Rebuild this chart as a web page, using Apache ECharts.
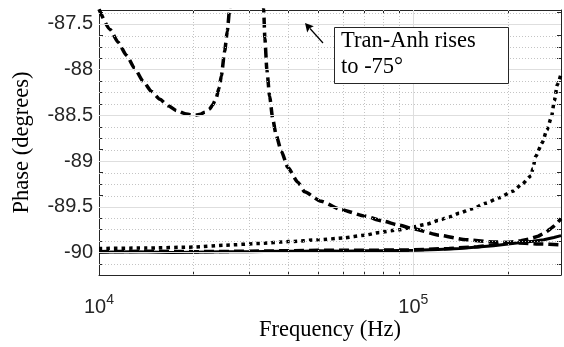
<!DOCTYPE html>
<html>
<head>
<meta charset="utf-8">
<script src="https://cdn.jsdelivr.net/npm/echarts@6/dist/echarts.min.js"></script>
<style>html,body{margin:0;padding:0;background:#fff;}#c{width:564px;height:347px;}</style>
</head>
<body>
<div id="c"></div>
<script>
// ---- data ----
const freqTA = [1.0e4, 1.084e4, 1.15e4, 1.224e4, 1.3e4, 1.382e4, 1.47e4, 1.562e4, 1.66e4, 1.764e4, 1.9e4, 1.97e4, 2.04e4, 2.1e4, 2.17e4, 2.25e4, 2.3e4, 2.36e4, 2.41e4, 2.45e4, 2.51e4, 2.56e4, 2.6e4, 2.7e4, 2.85e4, 3.0e4, 3.15e4, 3.28e4, 3.34e4, 3.37e4, 3.42e4, 3.49e4, 3.57e4, 3.66e4, 3.8e4, 3.99e4, 4.29e4, 4.51e4, 5.09e4, 5.9e4, 6.99e4, 7.99e4, 9.0e4, 1.0e5, 1.21e5, 1.47e5, 1.83e5, 2.17e5, 2.5e5, 2.95e5];
const phaseTA = [-87.34, -87.56, -87.70, -87.845, -87.99, -88.128, -88.24, -88.324, -88.395, -88.448, -88.485, -88.493, -88.495, -88.488, -88.465, -88.43, -88.385, -88.31, -88.2, -88.07, -87.80, -87.58, -87.36, -86.0, -80.0, -75.0, -80.0, -86.0, -87.34, -87.65, -88.0, -88.29, -88.537, -88.714, -88.89, -89.07, -89.23, -89.336, -89.44, -89.53, -89.60, -89.655, -89.70, -89.74, -89.81, -89.86, -89.885, -89.896, -89.905, -89.915];

const freqDot = [1e4, 1.4e4, 2e4, 2.5e4, 3.24e4, 4e4, 5.03e4, 6e4, 7e4, 7.8e4, 9e4, 1e5, 1.1e5, 1.2e5, 1.3e5, 1.4e5, 1.54e5, 1.7e5, 1.875e5, 2.07e5, 2.22e5, 2.37e5, 2.4e5, 2.45e5, 2.57e5, 2.66e5, 2.75e5, 2.81e5, 2.87e5, 2.95e5];
const phaseDot = [-89.955, -89.95, -89.94, -89.92, -89.90, -89.88, -89.86, -89.84, -89.81, -89.78, -89.75, -89.72, -89.69, -89.65, -89.61, -89.57, -89.52, -89.46, -89.40, -89.33, -89.25, -89.16, -89.08, -88.95, -88.80, -88.66, -88.52, -88.34, -88.165, -88.05];

const freqSolid = [1e4, 1.3e4, 1.7e4, 2e4, 2.5e4, 3e4, 3.75e4, 4.5e4, 5e4, 6e4, 7e4, 8e4, 1e5, 1.2e5, 1.4e5, 1.6e5, 1.8e5, 2e5, 2.2e5, 2.4e5, 2.6e5, 2.8e5, 2.95e5];
const phaseSolid = [-89.995, -89.99, -90.0, -89.995, -89.99, -89.99, -89.985, -89.985, -89.98, -89.985, -89.98, -89.98, -89.975, -89.965, -89.955, -89.94, -89.925, -89.905, -89.89, -89.875, -89.86, -89.835, -89.815];

const freqDash = [1e4, 1.5e4, 2e4, 3e4, 4e4, 5e4, 7e4, 1e5, 1.3e5, 1.6e5, 1.8e5, 2.0e5, 2.2e5, 2.34e5, 2.5e5, 2.63e5, 2.72e5, 2.8e5, 2.88e5, 2.95e5];
const phaseDash = [-89.99, -89.985, -89.99, -89.985, -89.98, -89.975, -89.975, -89.97, -89.955, -89.935, -89.915, -89.89, -89.87, -89.85, -89.82, -89.78, -89.745, -89.71, -89.67, -89.63];

const yTickVals = [-90, -89.5, -89, -88.5, -88, -87.5];
const yMinorVals = [-90.125, -89.875, -89.75, -89.625, -89.375, -89.25, -89.125, -88.875, -88.75, -88.625, -88.375, -88.25, -88.125, -87.875, -87.75, -87.625, -87.375];
const xMajorVals = [1e4, 1e5];
const xMinorVals = [2e4, 3e4, 4e4, 5e4, 6e4, 7e4, 8e4, 9e4, 2e5];

const xTitle = 'Frequency (Hz)';
const yTitle = 'Phase (degrees)';
const noteLines = ['Tran-Anh rises', 'to -75°'];

const X_MIN = 1e4, X_MAX = 2.95e5, Y_MIN = -90.245, Y_MAX = -87.348;

// ---- build ----
const zip = (a, b) => a.map((v, i) => [v, b[i]]);
const axisCol = '#262626';
const allYTicks = yTickVals.concat(yMinorVals).sort((a, b) => a - b);
const allXTicks = xMajorVals.concat(xMinorVals).sort((a, b) => a - b);

const gridLines = []
  .concat(yTickVals.map(v => ({yAxis: v, lineStyle: {color: '#dedede', width: 1, type: 'solid'}})))
  .concat(yMinorVals.map(v => ({yAxis: v, lineStyle: {color: '#c4c4c4', width: 1, type: [1, 2]}})))
  .concat(xMajorVals.slice(1).map(v => ({xAxis: v, lineStyle: {color: '#dedede', width: 1, type: 'solid'}})))
  .concat(xMinorVals.map(v => ({xAxis: v, lineStyle: {color: '#c4c4c4', width: 1, type: [1, 2]}})));

const xFmt = v => {
  const e = Math.log10(v);
  if (Math.abs(e - Math.round(e)) < 1e-6) return '{b|10}{s|' + Math.round(e) + '}';
  return '';
};

const chart = echarts.init(document.getElementById('c'), null, {renderer: 'canvas'});
chart.setOption({
  animation: false,
  backgroundColor: '#fff',
  grid: {left: 99, right: 2, top: 10, bottom: 65, containLabel: false},
  xAxis: [{
    type: 'log', logBase: 10, min: X_MIN, max: X_MAX, position: 'bottom',
    axisLine: {show: true, lineStyle: {color: axisCol, width: 1}},
    axisTick: {show: true, inside: true, length: 4, customValues: allXTicks, lineStyle: {color: axisCol}},
    axisLabel: {
      formatter: xFmt, margin: 18, color: '#262626',
      rich: {
        b: {fontFamily: 'Liberation Sans', fontSize: 20, lineHeight: 24, verticalAlign: 'bottom', color: '#262626'},
        s: {fontFamily: 'Liberation Sans', fontSize: 14, lineHeight: 14, verticalAlign: 'top', color: '#262626'}
      }
    },
    splitLine: {show: false}, minorTick: {show: false}, minorSplitLine: {show: false},
    name: xTitle, nameLocation: 'middle', nameGap: 44, nameMoveOverlap: false,
    nameTextStyle: {fontFamily: 'Liberation Serif', fontSize: 22.5, color: '#000', verticalAlign: 'top'}
  }, {
    type: 'log', logBase: 10, min: X_MIN, max: X_MAX, position: 'top',
    axisLine: {show: true, lineStyle: {color: axisCol, width: 1}},
    axisTick: {show: true, inside: true, length: 4, customValues: allXTicks, lineStyle: {color: axisCol}},
    axisLabel: {show: false}, splitLine: {show: false}
  }],
  yAxis: [{
    type: 'value', min: Y_MIN, max: Y_MAX, position: 'left',
    axisLine: {show: true, lineStyle: {color: axisCol, width: 1}},
    axisTick: {show: true, inside: true, length: 4, customValues: allYTicks, lineStyle: {color: axisCol}},
    axisLabel: {customValues: yTickVals, formatter: v => String(v), margin: 6,
      fontFamily: 'Liberation Sans', fontSize: 20, color: '#262626'},
    splitLine: {show: false},
    name: yTitle, nameLocation: 'middle', nameGap: 65, nameMoveOverlap: false,
    nameTextStyle: {fontFamily: 'Liberation Serif', fontSize: 22.5, color: '#000'}
  }, {
    type: 'value', min: Y_MIN, max: Y_MAX, position: 'right',
    axisLine: {show: true, lineStyle: {color: axisCol, width: 1}},
    axisTick: {show: true, inside: true, length: 4, customValues: allYTicks, lineStyle: {color: axisCol}},
    axisLabel: {show: false}, splitLine: {show: false}
  }],
  series: [{
    name: 'grid', type: 'line', data: [], z: 1, silent: true,
    markLine: {silent: true, symbol: ['none', 'none'], label: {show: false}, animation: false, data: gridLines}
  }, {
    name: 'solid', type: 'line', data: zip(freqSolid, phaseSolid), showSymbol: false, z: 3,
    lineStyle: {color: '#000', width: 3, type: 'solid'}
  }, {
    name: 'dashed', type: 'line', data: zip(freqDash, phaseDash), showSymbol: false, z: 3,
    lineStyle: {color: '#000', width: 3.5, type: [10, 5], cap: 'butt'}
  }, {
    name: 'dotted', type: 'line', data: zip(freqDot, phaseDot), showSymbol: false, z: 3,
    smooth: 0.2, smoothMonotone: 'x',
    lineStyle: {color: '#000', width: 3.5, type: [3.5, 4], cap: 'butt'}
  }, {
    name: 'Tran-Anh', type: 'line', data: zip(freqTA, phaseTA), showSymbol: false, z: 3, clip: true,
    smooth: 0.2, smoothMonotone: 'x',
    lineStyle: {color: '#000', width: 3.5, type: [10, 5], cap: 'butt'}
  }],
  graphic: [{
    type: 'rect', z: 100, shape: {x: 334.5, y: 27.5, width: 174, height: 56},
    style: {fill: '#fff', stroke: '#262626', lineWidth: 1}
  }, {
    type: 'text', z: 101, x: 341, y: 28,
    style: {text: noteLines.join('\n'), font: '22.5px "Liberation Serif"', fill: '#000', lineHeight: 26}
  }, {
    type: 'line', z: 101, shape: {x1: 323, y1: 43, x2: 310, y2: 28.5},
    style: {stroke: '#000', lineWidth: 1.2}
  }, {
    type: 'polygon', z: 101, shape: {points: [[305, 23], [307.2, 32.5], [309.6, 28.3], [313.8, 26.2]]},
    style: {fill: '#000'}
  }]
});
</script>
</body>
</html>
